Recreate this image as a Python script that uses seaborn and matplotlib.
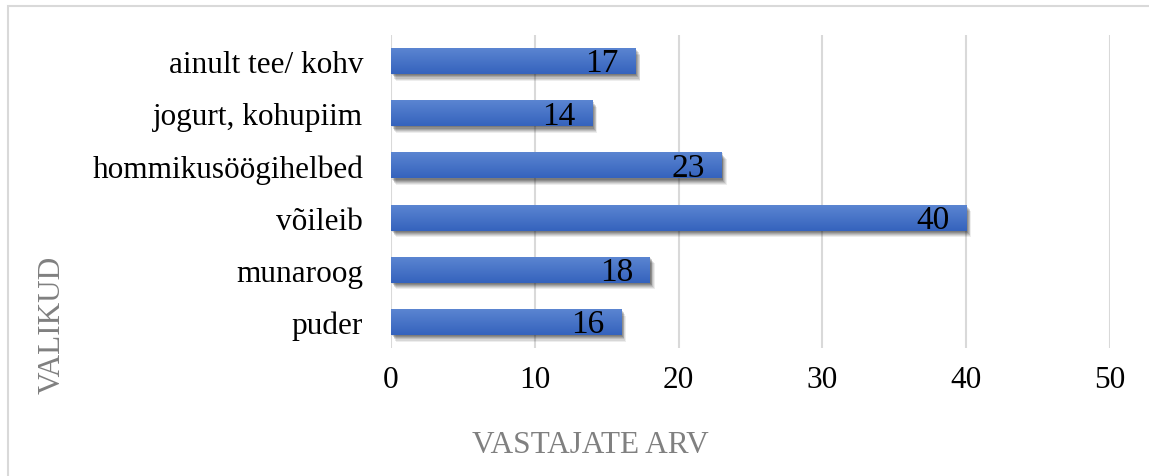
import matplotlib
matplotlib.use("Agg")
import matplotlib.pyplot as plt
import matplotlib.patheffects as pe
from matplotlib.patches import Rectangle
from matplotlib.colors import LinearSegmentedColormap
import numpy as np
import pandas as pd
import seaborn as sns

categories = ["ainult tee/ kohv", "jogurt, kohupiim", "hommikusöögihelbed",
              "võileib", "munaroog", "puder"]
values = [17, 14, 23, 40, 18, 16]
xticks = [0, 10, 20, 30, 40, 50]
x_title = "VASTAJATE ARV"
y_title = "VALIKUD"

sns.set_theme(style="white")
plt.rcParams["font.family"] = ["Liberation Serif", "DejaVu Serif"]

df = pd.DataFrame({"cat": categories, "val": values})

fig = plt.figure(figsize=(11.49, 4.77), dpi=100)
ax = fig.add_axes([391/1149, 1-349/477, (1110-391)/1149, (349-36)/477])

sns.barplot(data=df, y="cat", x="val", orient="h", color="#4472C4",
            width=0.5, ax=ax, saturation=1, zorder=3, linewidth=0,
            edgecolor="none")

ax.set_xlim(0, 50)
ax.set_xticks(xticks)
ax.grid(axis="x", color="#d9d9d9", linewidth=1.5, zorder=0)
ax.grid(axis="y", visible=False)
for s in ax.spines.values():
    s.set_visible(False)
ax.tick_params(axis="both", length=0, labelsize=22.5, colors="black")
ax.tick_params(axis="y", pad=20)
ax.tick_params(axis="x", pad=12)
ax.set_xlabel("")
ax.set_ylabel("")

# gradient fill + soft shadow on each bar
grad = np.linspace(0, 1, 64).reshape(-1, 1)
cmap = LinearSegmentedColormap.from_list("g", ["#5c86d2", "#3563bd"])
shadow_fx = []
for k, a in [(6, 0.07), (5, 0.09), (4, 0.11), (3, 0.13), (2, 0.15), (1, 0.12)]:
    shadow_fx.append(pe.SimplePatchShadow(offset=(k * 0.6, -k * 0.8),
                                          shadow_rgbFace="black", alpha=a))
for p in ax.patches:
    p.set_edgecolor("none")
    p.set_linewidth(0)
    x0, y0 = p.get_x(), p.get_y()
    w, h = p.get_width(), p.get_height()
    p.set_path_effects(shadow_fx + [pe.Normal()])
    im = ax.imshow(grad, extent=(x0, x0 + w, y0 + h, y0), aspect="auto",
                   cmap=cmap, zorder=4, origin="upper")
    im.set_clip_path(p)

ax.set_ylim(5.5, -0.5)
ax.set_xlim(0, 50)

for i, v in enumerate(values):
    ax.annotate(str(v), xy=(v, i), xytext=(-12, -1.5), textcoords="offset points",
                ha="right", va="center", fontsize=24, color="black", zorder=6)

fig.text(590/1149, 1-446/477, x_title, ha="center", va="center",
         fontsize=22.5, color="#808080")
fig.text(52/1149, 1-325/477, y_title, ha="center", va="center",
         rotation=90, fontsize=22.5, color="#808080")

fig.patches.append(Rectangle((8/1149, -0.1), 1.2, 1.1 - 7/477,
                             transform=fig.transFigure, fill=False,
                             edgecolor="#d9d9d9", linewidth=1.5))

fig.savefig("out.png", dpi=100)
